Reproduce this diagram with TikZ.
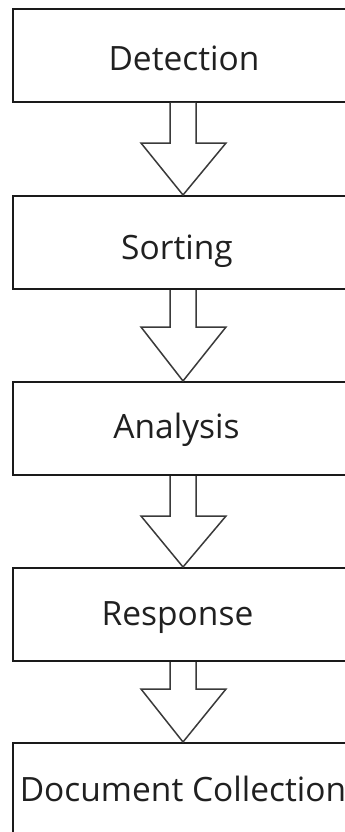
\documentclass[tikz,border=0pt]{standalone}
\usepackage{fontspec}
\setmainfont{Open Sans}
\usetikzlibrary{calc}
\definecolor{boxline}{HTML}{1A1A1A}
\definecolor{arrline}{HTML}{3A3A3A}
\definecolor{txt}{HTML}{202020}
\begin{document}
\begin{tikzpicture}[x=1pt,y=-1pt,
  stepbox/.style={draw=boxline,line width=2pt,rectangle,minimum width=340pt,minimum height=93pt,inner sep=0pt,anchor=north west},
  steptext/.style={anchor=base,inner sep=0pt,text=txt,font=\fontsize{33.5}{36}\selectfont},
  bigarrow/.style={draw=arrline,line width=1.5pt,fill=white,line join=miter}]
\useasboundingbox (0,0) rectangle (345,832);
\clip (0,0) rectangle (345,832);
\node[stepbox] (b1) at (12,8) {};
\node[stepbox] (b2) at (12,195) {};
\node[stepbox] (b3) at (12,381) {};
\node[stepbox] (b4) at (12,567) {};
\node[stepbox] (b5) at (12,742) {};
\node[steptext] (t1) at (184,71) {Detection};
\node[steptext] (t2) at (177,259) {Sorting};
\node[steptext] (t3) at (176.5,438) {Analysis};
\node[steptext] (t4) at (177.5,625) {Response};
\node[steptext] (t5) at (183,801) {Document Collection};
% block arrows, drawn from the bottom of one box to the top of the next
\draw[bigarrow] ($(b1.south)+(-13,0)$) -- ++(0,40) -- ++(-29,0) -- (b2.north) -- ($(b1.south)+(43,40)$) -- ++(-30,0) -- ($(b1.south)+(13,0)$);
\draw[bigarrow] ($(b2.south)+(-13,0)$) -- ++(0,37) -- ++(-29,0) -- (b3.north) -- ($(b2.south)+(43,37)$) -- ++(-30,0) -- ($(b2.south)+(13,0)$);
\draw[bigarrow] ($(b3.south)+(-13,0)$) -- ++(0,40) -- ++(-29,0) -- (b4.north) -- ($(b3.south)+(43,40)$) -- ++(-30,0) -- ($(b3.south)+(13,0)$);
\draw[bigarrow] ($(b4.south)+(-13,0)$) -- ++(0,27) -- ++(-29,0) -- (b5.north) -- ($(b4.south)+(43,27)$) -- ++(-30,0) -- ($(b4.south)+(13,0)$);
\end{tikzpicture}
\end{document}
